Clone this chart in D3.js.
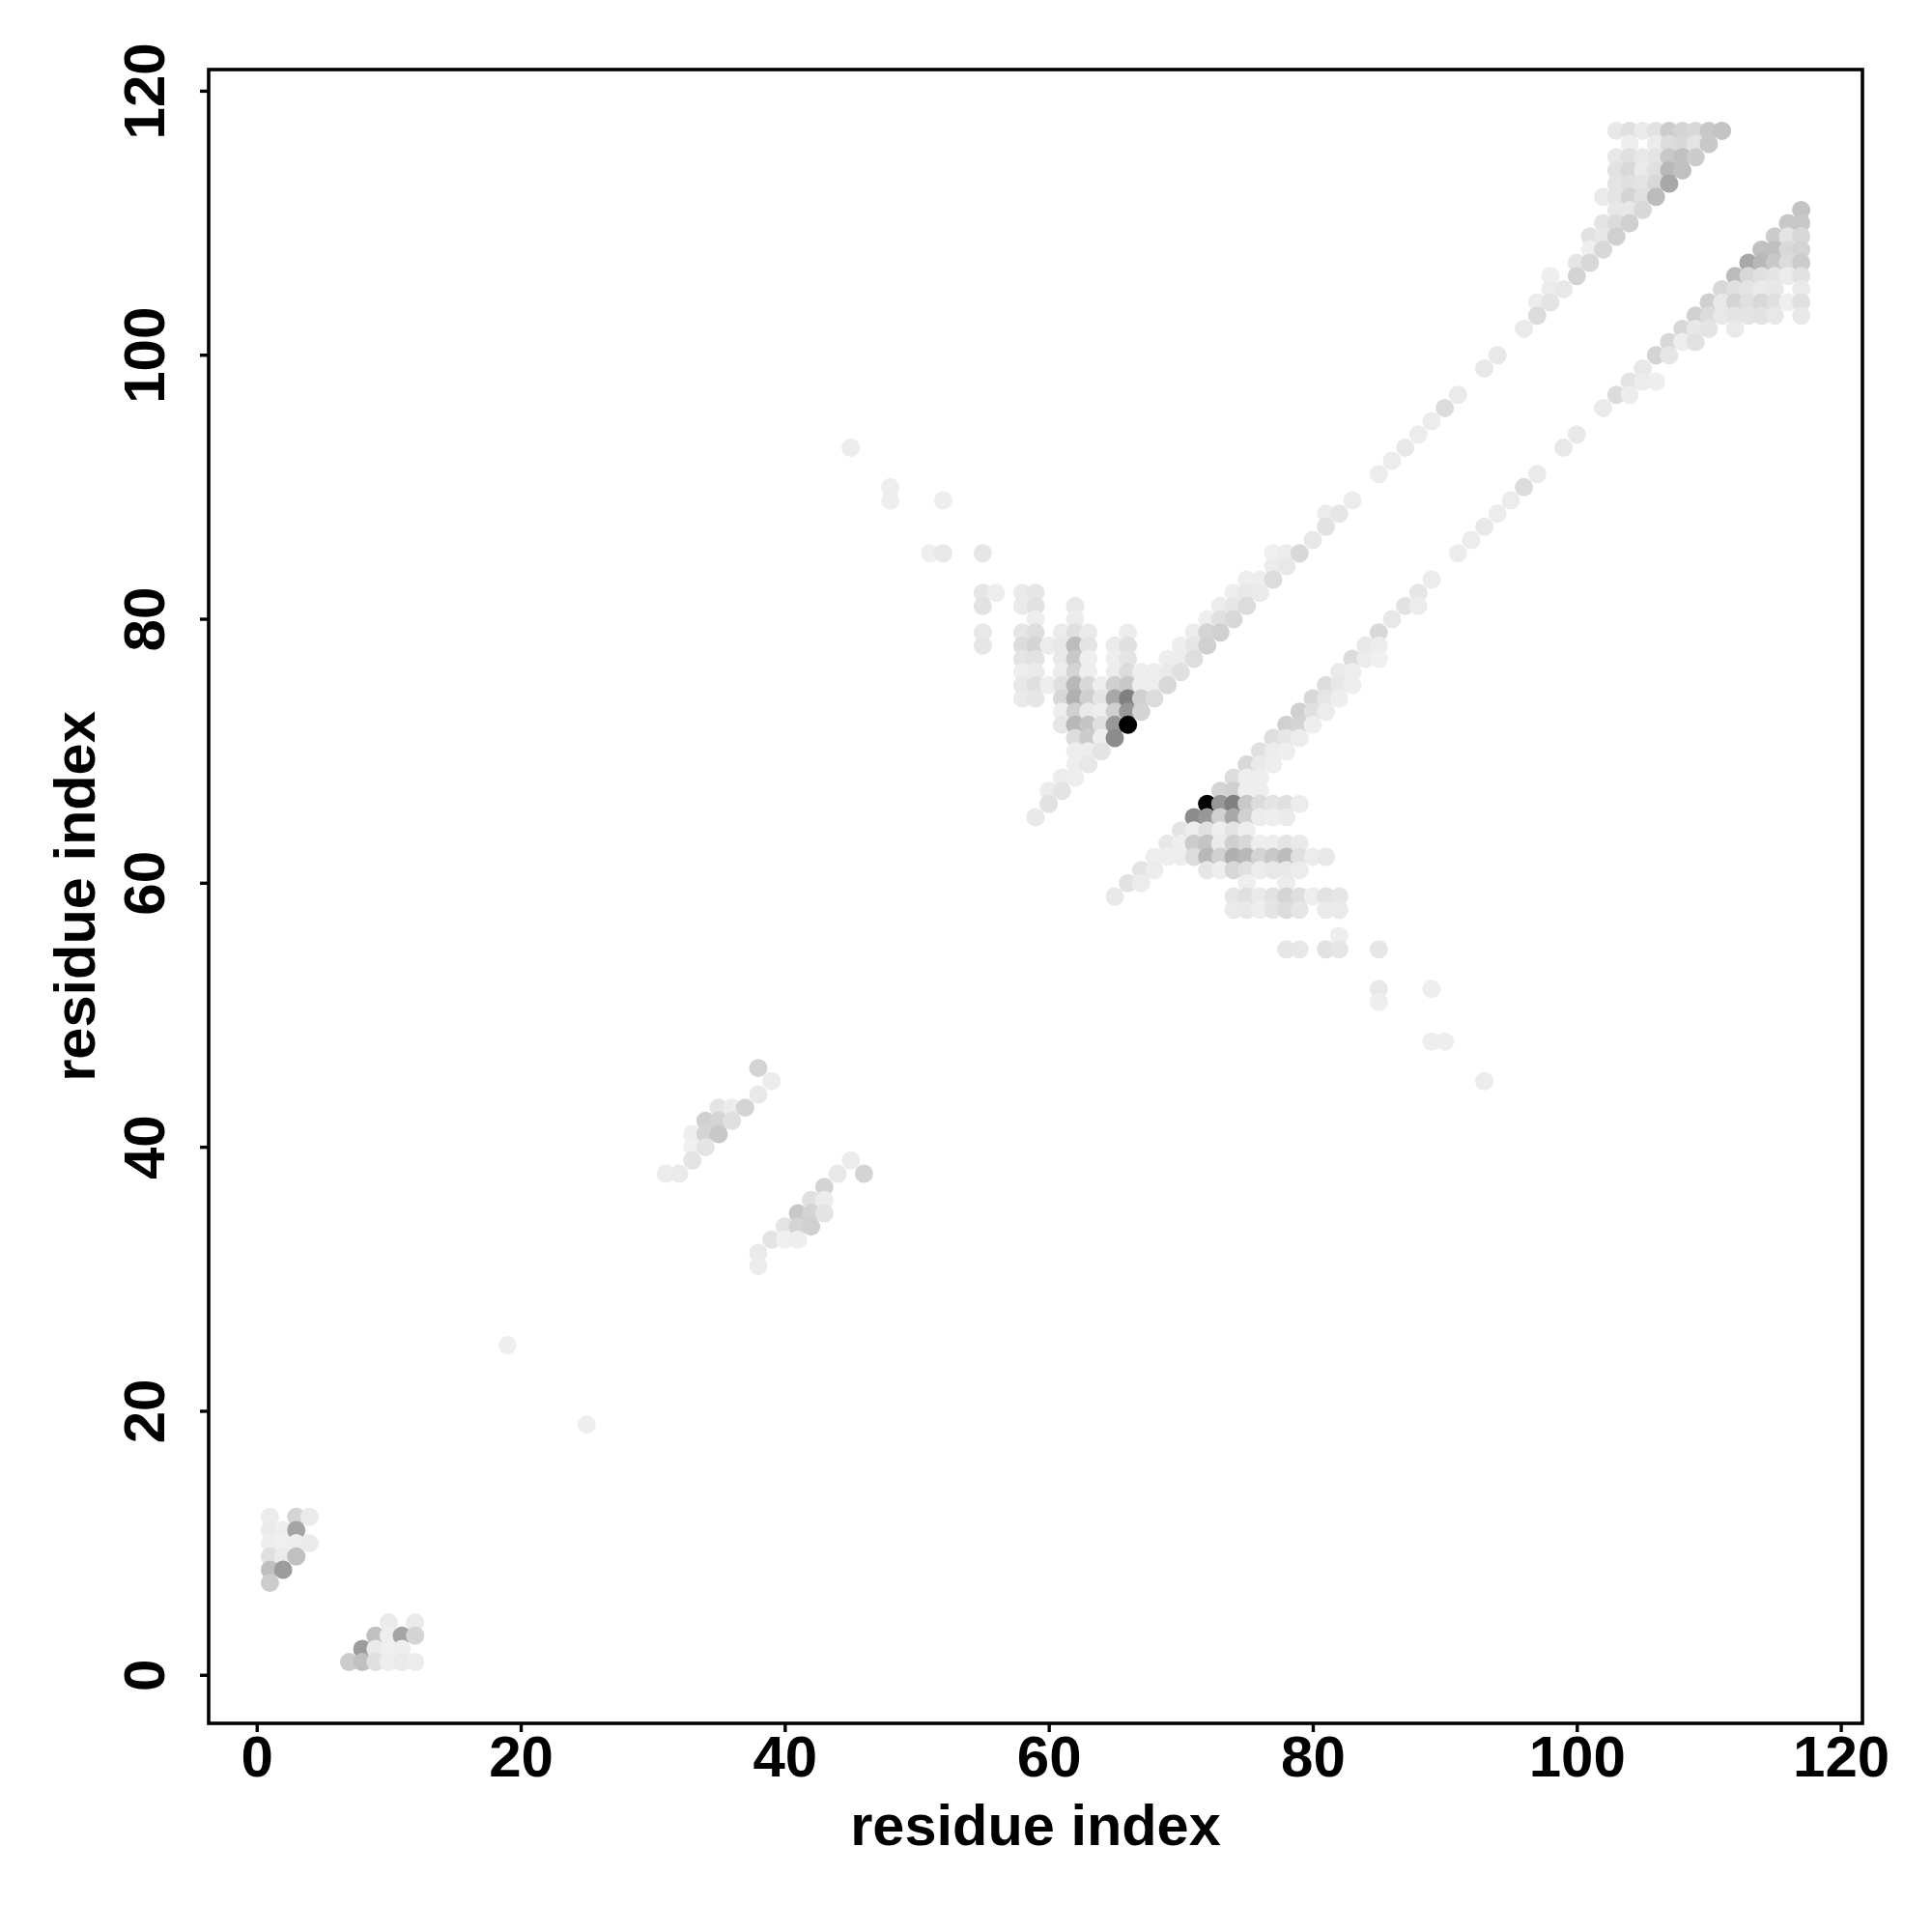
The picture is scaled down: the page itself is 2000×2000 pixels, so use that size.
<!DOCTYPE html>
<html>
<head>
<meta charset="utf-8">
<script src="https://cdn.jsdelivr.net/npm/d3@7/dist/d3.min.js"></script>
<style>
html,body{margin:0;padding:0;background:#fff;}
svg{display:block;}
text{font-family:"Liberation Sans",Arial,sans-serif;font-weight:700;fill:#000;}
</style>
</head>
<body>
<div id="chart"></div>
<script>
const contactI = [
1,1,1,1,1,1, 2,2,2,2, 3,3,3,3, 4,4, 19, 31, 32, 33,33,33, 34,34,34, 35,35,35, 36,36, 37, 38,38, 39, 45, 48,48, 51, 52,52,
55,55,55,55,55, 56, 58,58,58,58,58,58,58,58, 59,59,59,59,59,59,59,59,59,59, 60,60,60,60,
61,61,61,61,61,61,61,61,61,61, 62,62,62,62,62,62,62,62,62,62,62,62,62,62, 63,63,63,63,63,63,63,63,63,63,63,
64,64,64,64,64,64, 65,65,65,65,65,65,65,65, 66,66,66,66,66,66,66,66, 67,67,67,67, 68,68,68, 69,69,69, 70,70,70, 71,71,71,
72,72,72, 73,73,73, 74,74,74, 75,75,75, 76,76, 77,77,77, 78,78, 79, 80, 81,81, 82, 83, 85, 86, 87, 88, 89, 90, 91, 93, 94, 96,
97,97, 98,98,98, 99, 100,100, 101,101,101, 102,102,102,102, 103,103,103,103,103,103,103,103, 104,104,104,104,104,104,104,104,
105,105,105,105,105,105, 106,106,106,106,106,106, 107,107,107,107,107, 108,108,108,108, 109,109,109, 110,110, 111];
const contactJ = [
7,8,9,10,11,12, 8,9,10,11, 9,10,11,12, 10,12, 25, 38, 38, 39,40,41, 40,41,42, 41,42,43, 42,43, 43, 44,46, 45, 93, 89,90, 85, 85,89,
78,79,81,82,85, 82, 74,75,76,77,78,79,81,82, 65,74,75,76,77,78,79,80,81,82, 66,67,75,78,
67,68,72,73,74,75,76,77,78,79, 68,69,70,71,72,73,74,75,76,77,78,79,80,81, 69,70,71,72,73,74,75,76,77,78,79,
70,71,72,73,74,75, 71,72,73,74,75,76,77,78, 72,73,74,75,76,77,78,79, 73,74,75,76, 74,75,76, 75,76,77, 76,77,78, 77,78,79,
78,79,80, 79,80,81, 80,81,82, 81,82,83, 82,83, 83,84,85, 84,85, 85, 86, 87,88, 88, 89, 91, 92, 93, 94, 95, 96, 97, 99, 100, 102,
103,104, 104,105,106, 105, 106,107, 107,108,109, 108,109,110,112, 109,110,111,112,113,114,115,117, 110,111,112,113,114,115,116,117,
111,112,113,114,115,117, 112,113,114,115,116,117, 113,114,115,116,117, 114,115,116,117, 115,116,117, 116,117, 117];
const contactScore = [
51,63,31,17,21,19, 99,21,15,17, 63,17,91,43, 21,21, 17, 19, 21, 27,15,17, 27,43,47, 55,43,27, 31,19, 43, 23,43, 19, 19, 17,17, 17, 23,17,
25,23,29,25,25, 17, 21,23,17,27,35,25,21,21, 23,25,31,21,29,43,33,17,29,25, 29,19,17,19,
27,19,25,17,39,31,19,23,23,19, 17,17,17,35,71,47,79,71,43,55,67,31,19,23, 23,17,51,59,21,47,39,17,17,27,21,
27,17,31,17,27,17, 115,103,47,87,47,19,17,20, 255,103,127,55,35,27,31,19, 43,47,17,17, 35,17,17, 39,21,17, 31,19,17, 33,25,19,
47,43,17, 47,31,19, 39,25,17, 35,23,17, 21,17, 35,19,15, 23,19, 39, 23, 29,19, 25, 19, 19, 19, 23, 19, 19, 35, 21, 23, 23, 21,
35,19, 27,19,17, 23, 43,25, 39,17,29, 39,23,27,21, 47,35,23,27,27,29,23,23, 47,23,43,31,39,31,17,31,
39,31,27,21,23,21, 67,39,31,27,19,29, 87,71,55,35,51, 63,63,39,43, 51,27,39, 55,55, 59];
const axisTicks = [0,20,40,60,80,100,120];
const axisTitle = "residue index";

const W = 2000, H = 2000;
const frame = {left:216, right:1928, top:72, bottom:1784};
const x = d3.scaleLinear().domain([-3.64,121.64]).range([frame.left,frame.right]);
const y = d3.scaleLinear().domain([-3.64,121.64]).range([frame.bottom,frame.top]);
const shade = d3.scaleLinear().domain([0,255]).range(["#ffffff","#000000"]);

const contacts = [];
contactI.forEach((a,k)=>{
  const b = contactJ[k], s = contactScore[k];
  contacts.push({px:a,py:b,s});
  contacts.push({px:b,py:a,s});
});
contacts.sort((p,q)=>d3.ascending(p.px,q.px)||d3.descending(p.py,q.py));

const svg = d3.select("#chart").append("svg").attr("width",W).attr("height",H).attr("viewBox",`0 0 ${W} ${H}`);
svg.append("rect").attr("width",W).attr("height",H).attr("fill","#fff");

svg.append("g").selectAll("circle").data(contacts).join("circle")
  .attr("cx",d=>x(d.px)).attr("cy",d=>y(d.py)).attr("r",9.5).attr("fill",d=>shade(d.s));

const gx = svg.append("g").attr("transform",`translate(0,${frame.bottom})`)
  .call(d3.axisBottom(x).tickValues(axisTicks).tickSize(9).tickPadding(0));
const gy = svg.append("g").attr("transform",`translate(${frame.left},0)`)
  .call(d3.axisLeft(y).tickValues(axisTicks).tickSize(9).tickPadding(0));
[gx,gy].forEach(g=>{
  g.select(".domain").remove();
  g.selectAll("line").attr("stroke","#000").attr("stroke-width",3.4);
  g.selectAll("text").attr("font-family",null).style("font-size","60px");
});
gx.selectAll("text").attr("y",55).attr("dy",0).attr("text-anchor","middle");
gy.selectAll("text").attr("x",null).attr("dy",0)
  .attr("text-anchor","middle")
  .attr("transform",d=>`translate(${170-frame.left},${y(d)}) rotate(-90)`);
gy.selectAll(".tick").attr("transform",d=>"translate(0,0)");
gy.selectAll(".tick line").attr("transform",d=>`translate(0,${y(d)})`);

svg.append("rect").attr("x",frame.left).attr("y",frame.top)
  .attr("width",frame.right-frame.left).attr("height",frame.bottom-frame.top)
  .attr("fill","none").attr("stroke","#000").attr("stroke-width",3.6);

svg.append("text").attr("x",(frame.left+frame.right)/2).attr("y",1910)
  .attr("text-anchor","middle").style("font-size","59.5px").text(axisTitle);
svg.append("text").attr("transform",`translate(98,${(frame.top+frame.bottom)/2}) rotate(-90)`)
  .attr("text-anchor","middle").style("font-size","59.5px").text(axisTitle);
</script>
</body>
</html>
